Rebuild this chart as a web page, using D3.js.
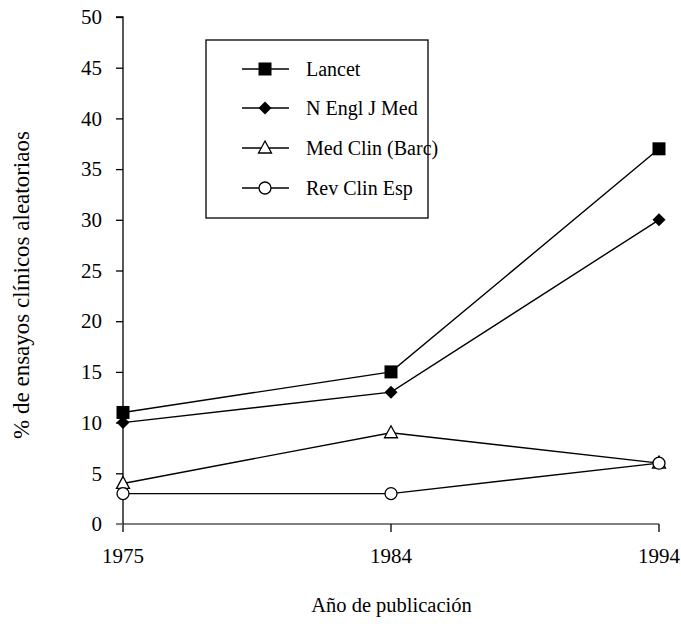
<!DOCTYPE html>
<html><head><meta charset="utf-8">
<script src="https://cdn.jsdelivr.net/npm/d3@7/dist/d3.min.js"></script>
<style>body{margin:0;background:#fff}</style>
</head><body>
<svg id="c" width="681" height="624"></svg>
<script>
const years = ["1975", "1984", "1994"];
const yTicks = [0, 5, 10, 15, 20, 25, 30, 35, 40, 45, 50];
const seriesNames = ["Lancet", "N Engl J Med", "Med Clin (Barc)", "Rev Clin Esp"];
const lancet = [11, 15, 37];
const nejm = [10, 13, 30];
const medClin = [4, 9, 6];
const revClin = [3, 3, 6];
const symbols = ["square", "diamond", "triangle", "circle"];

const series = [lancet, nejm, medClin, revClin].map((v, i) => ({name: seriesNames[i], values: v, sym: symbols[i]}));

const FONT = '"Liberation Serif", monospace';
const svg = d3.select("#c");
const x = d3.scalePoint().domain(years).range([123, 659]);
const y = d3.scaleLinear().domain([0, 50]).range([524, 17]);

function drawMarker(g, sym, cx, cy) {
  if (sym === "square") {
    g.append("rect").attr("x", cx - 6.5).attr("y", cy - 6.5).attr("width", 13).attr("height", 13).attr("fill", "#000");
  } else if (sym === "diamond") {
    g.append("path").attr("d", `M${cx},${cy-6.5}L${cx+6.5},${cy}L${cx},${cy+6.5}L${cx-6.5},${cy}Z`).attr("fill", "#000");
  } else if (sym === "triangle") {
    g.append("path").attr("d", `M${cx},${cy-7}L${cx+6.5},${cy+5}L${cx-6.5},${cy+5}Z`).attr("fill", "#fff").attr("stroke", "#000").attr("stroke-width", 1.3);
  } else {
    g.append("circle").attr("cx", cx).attr("cy", cy).attr("r", 6).attr("fill", "#fff").attr("stroke", "#000").attr("stroke-width", 1.3);
  }
}

// X axis (gray line)
svg.append("line").attr("x1", 116).attr("x2", 659).attr("y1", y(0)).attr("y2", y(0)).attr("stroke", "#808080").attr("stroke-width", 2);
svg.append("g").selectAll("line").data(years).join("line")
  .attr("x1", d => x(d)).attr("x2", d => x(d)).attr("y1", y(0)).attr("y2", y(0) + 8)
  .attr("stroke", "#000").attr("stroke-width", 1.3);
svg.append("g").selectAll("text").data(years).join("text")
  .attr("x", d => x(d)).attr("y", 563).attr("text-anchor", "middle")
  .style("font-family", FONT).style("font-size", "21px").text(d => d);

// Y axis
const yAxis = d3.axisLeft(y).tickValues(yTicks).tickSize(7).tickPadding(14).tickFormat(d3.format("d"));
const ya = svg.append("g").attr("transform", `translate(${x(years[0])},0)`).call(yAxis);
ya.select(".domain").attr("stroke", "#000").attr("stroke-width", 1.3).attr("d", `M-7,${y(50)}H0V${y(0)}`);
ya.selectAll(".tick line").attr("stroke", "#000").attr("stroke-width", 1.3);
ya.selectAll(".tick text").style("font-family", FONT).style("font-size", "21px").attr("fill", "#000");
ya.selectAll(".tick").filter(d => d === 0).select("line").attr("stroke", "#808080");

// Lines and markers
const line = d3.line().x((d, i) => x(years[i])).y(d => y(d));
series.forEach(s => {
  svg.append("path").attr("d", line(s.values)).attr("fill", "none").attr("stroke", "#000").attr("stroke-width", 1.4);
});
series.forEach(s => {
  const g = svg.append("g");
  s.values.forEach((v, i) => drawMarker(g, s.sym, x(years[i]), y(v)));
});

// Legend
svg.append("rect").attr("x", 206).attr("y", 40).attr("width", 222).attr("height", 178)
  .attr("fill", "#fff").attr("stroke", "#000").attr("stroke-width", 1.3);
const legY = [69, 108, 148, 188];
series.forEach((s, i) => {
  const g = svg.append("g");
  g.append("line").attr("x1", 242).attr("x2", 289).attr("y1", legY[i]).attr("y2", legY[i]).attr("stroke", "#000").attr("stroke-width", 1.4);
  drawMarker(g, s.sym, 265, legY[i]);
  g.append("text").attr("x", 306).attr("y", legY[i] + 7).style("font-family", FONT).style("font-size", "20px").text(s.name);
});

// Axis titles
svg.append("text").attr("transform", "translate(29,285) rotate(-90)").attr("text-anchor", "middle")
  .style("font-family", FONT).style("font-size", "23px").text("% de ensayos clínicos aleatoriaos");
svg.append("text").attr("x", 391.5).attr("y", 612).attr("text-anchor", "middle")
  .style("font-family", FONT).style("font-size", "20.5px").text("Año de publicación");
</script>
</body></html>
